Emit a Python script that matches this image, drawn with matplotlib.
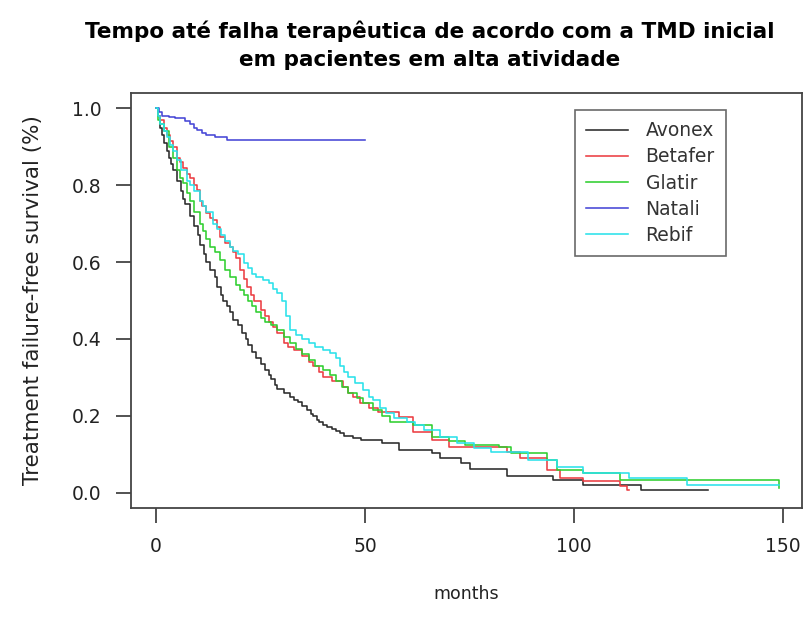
import matplotlib
matplotlib.use("Agg")
import matplotlib.pyplot as plt

# Kaplan-Meier style step curves (months, survival)
avonex_t = [0, 0.5, 1, 1.5, 2, 2.5, 3, 3.5, 4, 5, 6, 6.5, 7, 8, 9, 10, 10.5, 11.5, 12, 13,
            14, 14.5, 15.5, 16, 17, 17.7, 18.5, 19.5, 20.5, 21.5, 22, 23, 24, 25, 26, 27, 27.5,
            28.5, 29, 30.5, 32, 33, 34, 35, 36, 37, 37.6, 38.5, 39, 40, 41, 42, 43, 44, 45, 47,
            49, 54, 58, 66, 68, 73, 75, 84, 95, 102, 116, 132]
avonex_s = [1.0, 0.98, 0.95, 0.93, 0.91, 0.89, 0.87, 0.855, 0.84, 0.81, 0.785, 0.765, 0.75,
            0.72, 0.695, 0.67, 0.645, 0.62, 0.60, 0.58, 0.56, 0.535, 0.515, 0.50, 0.485, 0.47,
            0.45, 0.435, 0.415, 0.40, 0.385, 0.365, 0.35, 0.335, 0.32, 0.305, 0.295, 0.28, 0.27,
            0.26, 0.25, 0.24, 0.235, 0.225, 0.215, 0.205, 0.20, 0.19, 0.185, 0.175, 0.17, 0.165,
            0.16, 0.155, 0.148, 0.143, 0.138, 0.13, 0.112, 0.104, 0.09, 0.078, 0.062, 0.042,
            0.034, 0.021, 0.008, 0.008]

betafer_t = [0, 0.5, 1, 2, 2.6, 3.3, 4, 5, 5.7, 6.5, 7.3, 8, 9, 9.8, 10.5, 11, 12, 12.8, 13.6,
             14.5, 15.3, 16.5, 17.7, 18.5, 19, 20, 21, 21.8, 22.7, 23.5, 25, 26, 27, 28, 29,
             30.5, 31.5, 33, 35, 36.5, 37.5, 39, 40, 42, 44.8, 46, 47, 48.8, 51, 53, 58, 61.5,
             66, 70, 84, 87, 93.5, 96.6, 102, 111, 112.6, 113]
betafer_s = [1.0, 0.98, 0.97, 0.95, 0.93, 0.915, 0.90, 0.87, 0.86, 0.845, 0.83, 0.82, 0.80,
             0.787, 0.76, 0.745, 0.727, 0.715, 0.71, 0.69, 0.665, 0.65, 0.64, 0.625, 0.61, 0.58,
             0.555, 0.535, 0.515, 0.50, 0.475, 0.46, 0.445, 0.43, 0.415, 0.39, 0.38, 0.37, 0.355,
             0.34, 0.33, 0.315, 0.30, 0.29, 0.275, 0.26, 0.25, 0.233, 0.22, 0.21, 0.197, 0.158,
             0.138, 0.12, 0.106, 0.09, 0.06, 0.039, 0.029, 0.016, 0.008, 0.008]

glatir_t = [0, 0.5, 1, 2, 3, 4, 5, 5.7, 6.5, 7.3, 8, 9, 10.5, 11.3, 12, 13, 14, 15.3, 16.5, 17.7,
            19, 20, 21, 22, 23, 24, 25, 26, 27.5, 29, 30.5, 32, 33.5, 35, 36.5, 38, 40, 41.5, 43,
            44.5, 46, 48, 49.5, 52, 54, 56, 61.5, 66, 70, 74, 82, 85, 93.5, 96, 102, 111, 149]
glatir_s = [1.0, 0.97, 0.96, 0.94, 0.90, 0.87, 0.84, 0.82, 0.805, 0.78, 0.76, 0.73, 0.70, 0.68,
            0.66, 0.64, 0.625, 0.605, 0.58, 0.56, 0.54, 0.527, 0.515, 0.50, 0.485, 0.47, 0.455,
            0.445, 0.435, 0.423, 0.405, 0.39, 0.375, 0.36, 0.345, 0.33, 0.32, 0.305, 0.29, 0.275,
            0.26, 0.245, 0.233, 0.215, 0.20, 0.185, 0.177, 0.146, 0.135, 0.125, 0.12, 0.104,
            0.086, 0.06, 0.05, 0.034, 0.012]

natali_t = [0, 0.7, 1.5, 3, 4.5, 5.7, 7, 8, 9, 9.8, 11, 12, 14, 17, 50]
natali_s = [1.0, 0.99, 0.98, 0.978, 0.976, 0.974, 0.968, 0.96, 0.95, 0.943, 0.935, 0.93, 0.925,
            0.917, 0.917]

rebif_t = [0, 0.5, 1, 1.8, 2.6, 3.3, 4, 5, 6, 7.4, 8.2, 9, 10.5, 11.3, 12, 13.6, 14.5, 15.5,
           16.5, 17.7, 18.5, 19.5, 21, 22, 23, 24, 25.6, 27, 28, 29, 30, 31, 32, 33.5, 35, 36.5,
           38, 40, 41.6, 43, 44, 45, 46, 47.5, 49.5, 51, 52, 53.5, 55, 57, 60, 62, 64, 68, 72,
           76, 80, 89, 96, 102, 113, 127, 149]
rebif_s = [1.0, 0.98, 0.96, 0.94, 0.925, 0.905, 0.89, 0.865, 0.84, 0.81, 0.8, 0.785, 0.76,
           0.745, 0.73, 0.70, 0.685, 0.67, 0.655, 0.64, 0.63, 0.62, 0.597, 0.585, 0.57, 0.56,
           0.553, 0.545, 0.53, 0.52, 0.50, 0.46, 0.423, 0.41, 0.40, 0.39, 0.38, 0.37, 0.363,
           0.35, 0.33, 0.315, 0.30, 0.285, 0.267, 0.25, 0.24, 0.22, 0.207, 0.195, 0.185, 0.175,
           0.164, 0.145, 0.13, 0.115, 0.106, 0.086, 0.068, 0.052, 0.039, 0.02, 0.02]

series = [
    ("Avonex", avonex_t, avonex_s, "#2a2a2a"),
    ("Betafer", betafer_t, betafer_s, "#ec3d42"),
    ("Glatir", glatir_t, glatir_s, "#2fcf2f"),
    ("Natali", natali_t, natali_s, "#4646d6"),
    ("Rebif", rebif_t, rebif_s, "#2ae2ea"),
]

x_ticks = [0, 50, 100, 150]
y_ticks = [0.0, 0.2, 0.4, 0.6, 0.8, 1.0]

plt.rcParams["font.family"] = ["DejaVu Sans"]

fig = plt.figure(figsize=(8.06, 6.29), dpi=100)
ax = fig.add_axes([131 / 806, 1 - 508 / 629, 671 / 806, 415 / 629])

for name, t, s, c in series:
    ax.step(t, s, where="post", color=c, lw=1.15, label=name)

ax.set_xlim(-6, 154.5)
ax.set_ylim(-0.04, 1.04)
ax.set_xticks(x_ticks)
ax.set_xticklabels([str(v) for v in x_ticks])
ax.set_yticks(y_ticks)
ax.set_yticklabels([f"{v:.1f}" for v in y_ticks])

for sp in ax.spines.values():
    sp.set_color("#444444")
    sp.set_linewidth(1.3)
ax.tick_params(length=11, width=1.3, color="#444444", labelsize=13.5, pad=10,
               labelcolor="#222222")

ax.set_xlabel("months", fontsize=12.5, color="#222222", labelpad=21)
ax.set_ylabel("Treatment failure-free survival (%)", fontsize=15.5, color="#222222",
              labelpad=21)

fig.text(430 / 806, 1 - 45 / 629,
         "Tempo até falha terapêutica de acordo com a TMD inicial\nem pacientes em alta atividade",
         ha="center", va="center", fontsize=15.5, fontweight="bold", linespacing=1.5)

leg = ax.legend(loc="upper left", bbox_to_anchor=(0.662, 0.959), fontsize=13.5,
                frameon=True, fancybox=False, edgecolor="#444444", borderpad=0.6,
                handlelength=2.2, handletextpad=0.95, labelspacing=0.38, borderaxespad=0)
leg.get_frame().set_linewidth(1.2)
for txt in leg.get_texts():
    txt.set_color("#333333")

fig.savefig("out.png", dpi=100)
